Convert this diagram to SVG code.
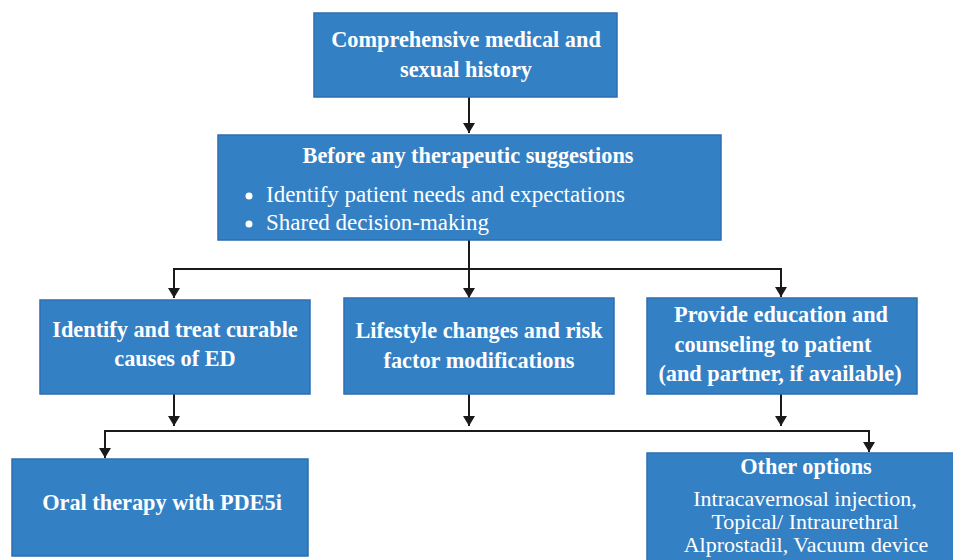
<svg xmlns="http://www.w3.org/2000/svg" width="953" height="560" viewBox="0 0 953 560">
<style>
.box{fill:#3480c4;stroke:#2e6db0;stroke-width:1.5}
.t{font-family:"Liberation Serif","Times New Roman",serif;fill:#fff;font-size:23px}
.b{font-weight:bold;font-size:22.3px}
.c{text-anchor:middle}
.s{font-size:22px}
.ln{fill:none;stroke:#1a1a1a;stroke-width:2}
</style>
<defs>
<marker id="ah" markerWidth="10" markerHeight="12" refX="10" refY="6" orient="auto" markerUnits="userSpaceOnUse">
<path d="M0,0 L10,6 L0,12 Z" fill="#1a1a1a"/>
</marker>
</defs>
<g id="connectors">
<line class="ln" x1="469" y1="97" x2="469" y2="133" marker-end="url(#ah)"/>
<line class="ln" x1="469" y1="240" x2="469" y2="298" marker-end="url(#ah)"/>
<polyline class="ln" points="174,298 174,269 781,269 781,297" marker-end="url(#ah)"/>
<line class="ln" x1="174" y1="269" x2="174" y2="298" marker-end="url(#ah)"/>
<line class="ln" x1="174" y1="394" x2="174" y2="426" marker-end="url(#ah)"/>
<line class="ln" x1="469" y1="394" x2="469" y2="426" marker-end="url(#ah)"/>
<line class="ln" x1="781" y1="394" x2="781" y2="426" marker-end="url(#ah)"/>
<polyline class="ln" points="105,458 105,431 869,431 869,452" marker-end="url(#ah)"/>
<line class="ln" x1="105" y1="431" x2="105" y2="458" marker-end="url(#ah)"/>
</g>
<g id="n1">
<rect class="box" x="314" y="13" width="303" height="84"/>
<text class="t b c" x="466" y="47">Comprehensive medical and</text>
<text class="t b c" x="466" y="77">sexual history</text>
</g>
<g id="n2">
<rect class="box" x="218" y="135" width="503" height="105"/>
<text class="t b c" x="468" y="163">Before any therapeutic suggestions</text>
<circle cx="249" cy="196" r="3.5" fill="#fff"/>
<text class="t" x="266" y="202">Identify patient needs and expectations</text>
<circle cx="249" cy="224" r="3.5" fill="#fff"/>
<text class="t" x="266" y="230">Shared decision-making</text>
</g>
<g id="n3">
<rect class="box" x="40" y="300" width="270" height="94"/>
<text class="t b c" x="175" y="337">Identify and treat curable</text>
<text class="t b c" x="175" y="366">causes of ED</text>
</g>
<g id="n4">
<rect class="box" x="344" y="298" width="270" height="96"/>
<text class="t b c" x="479" y="338">Lifestyle changes and risk</text>
<text class="t b c" x="479" y="368">factor modifications</text>
</g>
<g id="n5">
<rect class="box" x="647" y="298" width="270" height="96"/>
<text class="t b c" x="781" y="322">Provide education and</text>
<text class="t b c" x="773" y="352">counseling to patient</text>
<text class="t b c" x="780" y="381">(and partner, if available)</text>
</g>
<g id="n6">
<rect class="box" x="12" y="459" width="296" height="97"/>
<text class="t b c" x="162" y="510">Oral therapy with PDE5i</text>
</g>
<g id="n7">
<rect class="box" x="647" y="453" width="310" height="110"/>
<text class="t b c" x="806" y="474">Other options</text>
<text class="t s c" x="805" y="506">Intracavernosal injection,</text>
<text class="t s c" x="805" y="529">Topical/ Intraurethral</text>
<text class="t s c" x="806" y="552">Alprostadil, Vacuum device</text>
</g>
</svg>
